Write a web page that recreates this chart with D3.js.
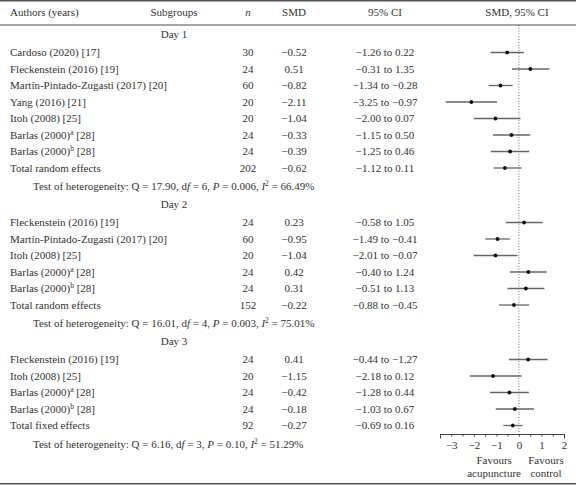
<!DOCTYPE html>
<html><head><meta charset="utf-8">
<script src="https://cdn.jsdelivr.net/npm/d3@7"></script>
<style>
body{margin:0;background:#fff}
svg{display:block}
text{font-family:"Liberation Serif","Times New Roman",serif;font-size:11px;fill:#333}
</style>
</head><body><svg id="c" width="576" height="485"></svg>
<script>
// ---------- data ----------
const days = ["Day 1", "Day 2", "Day 3"];
const authors = [
  "Cardoso (2020) [17]", "Fleckenstein (2016) [19]", "Martín-Pintado-Zugasti (2017) [20]",
  "Yang (2016) [21]", "Itoh (2008) [25]", "Barlas (2000)^a [28]", "Barlas (2000)^b [28]",
  "Fleckenstein (2016) [19]", "Martín-Pintado-Zugasti (2017) [20]", "Itoh (2008) [25]",
  "Barlas (2000)^a [28]", "Barlas (2000)^b [28]",
  "Fleckenstein (2016) [19]", "Itoh (2008) [25]", "Barlas (2000)^a [28]", "Barlas (2000)^b [28]"
];
const rowDay   = [0,0,0,0,0,0,0, 1,1,1,1,1, 2,2,2,2];
const nValues  = [30,24,60,20,20,24,24, 24,60,20,24,24, 24,20,24,24];
const smdValues= [-0.52,0.51,-0.82,-2.11,-1.04,-0.33,-0.39, 0.23,-0.95,-1.04,0.42,0.31, 0.41,-1.15,-0.42,-0.18];
const ciLow    = [-1.26,-0.31,-1.34,-3.25,-2.00,-1.15,-1.25, -0.58,-1.49,-2.01,-0.40,-0.51, -0.44,-2.18,-1.28,-1.03];
const ciHigh   = [0.22,1.35,-0.28,-0.97,0.07,0.50,0.46, 1.05,-0.41,-0.07,1.24,1.13, 1.27,0.12,0.44,0.67];
const ciLabels = [
  "−1.26 to 0.22","−0.31 to 1.35","−1.34 to −0.28","−3.25 to −0.97","−2.00 to 0.07","−1.15 to 0.50","−1.25 to 0.46",
  "−0.58 to 1.05","−1.49 to −0.41","−2.01 to −0.07","−0.40 to 1.24","−0.51 to 1.13",
  "−0.44 to −1.27","−2.18 to 0.12","−1.28 to 0.44","−1.03 to 0.67"
];
const totalLabels = ["Total random effects", "Total random effects", "Total fixed effects"];
const totalN      = [202, 152, 92];
const totalSmd    = [-0.62, -0.22, -0.27];
const totalLow    = [-1.12, -0.88, -0.69];
const totalHigh   = [0.11, 0.45, 0.16];
const totalCiLabels = ["−1.12 to 0.11", "−0.88 to −0.45", "−0.69 to 0.16"];
const hetQ  = ["17.90", "16.01", "6.16"];
const hetDf = ["6", "4", "3"];
const hetP  = ["0.006", "0.003", "0.10"];
const hetI2 = ["66.49%", "75.01%", "51.29%"];
const axisTicks = [-3, -2, -1, 0, 1, 2];
const headers = ["Authors (years)", "Subgroups", "n", "SMD", "95% CI", "SMD, 95% CI"];
const favourLabels = [["Favours", "acupuncture"], ["Favours", "control"]];

// ---------- layout ----------
const svg = d3.select("#c");
const W = 576, H = 485;
const col = {author: 10, sub: 174, n: 248, smd: 294, ci: 385, plot: 517};
const x = d3.scaleLinear().domain([-3.5, 2]).range([440, 564]);
const fmt = v => (v < 0 ? "−" : "") + Math.abs(v).toFixed(2);

// build rows
const rows = [];
days.forEach((d, di) => {
  rows.push({type: "day", label: d});
  authors.forEach((a, i) => {
    if (rowDay[i] === di) rows.push({type: "study", label: a, n: nValues[i], smd: smdValues[i], lo: ciLow[i], hi: ciHigh[i], ci: ciLabels[i]});
  });
  rows.push({type: "total", label: totalLabels[di], n: totalN[di], smd: totalSmd[di], lo: totalLow[di], hi: totalHigh[di], ci: totalCiLabels[di]});
  rows.push({type: "het", di});
});
const gapAfter = {day: 18.5, study: 16.5, total: 18.5, het: 17.5};
let yy = 34;
rows.forEach(r => { r.y = yy; yy += gapAfter[r.type]; });

// rules
const rule = (y, c, w) => svg.append("line").attr("x1", 0).attr("x2", W).attr("y1", y).attr("y2", y)
  .attr("stroke", c).attr("stroke-width", w);
rule(0.75, "#555", 1.5);
rule(25, "#888", 1.5);
rule(H - 1.25, "#555", 1.5);

// headers
const hy = 12 + 3.8;
const hx = [col.author, col.sub, col.n, col.smd, col.ci, col.plot];
headers.forEach((h, i) => {
  svg.append("text").attr("x", hx[i]).attr("y", hy)
    .attr("text-anchor", i === 0 ? "start" : "middle")
    .style("font-style", i === 2 ? "italic" : "normal").text(h);
});

// zero line
const axisY = 434;
svg.append("line").attr("x1", x(0)).attr("x2", x(0)).attr("y1", 25).attr("y2", axisY)
  .attr("stroke", "#444").attr("stroke-width", 0.8).attr("stroke-dasharray", "1,1.8");

// author label with superscript
function authorText(sel, label) {
  const m = label.match(/^(.*?)\^(\w)(.*)$/);
  if (m) {
    sel.append("tspan").text(m[1]);
    sel.append("tspan").attr("dy", -4).style("font-size", "7.5px").text(m[2]);
    sel.append("tspan").attr("dy", 4).text(m[3]);
  } else sel.text(label);
}

const g = svg.append("g");
rows.forEach(r => {
  const by = r.y + 3.8;
  if (r.type === "day") {
    g.append("text").attr("x", col.sub).attr("y", by).attr("text-anchor", "middle").text(r.label);
  } else if (r.type === "het") {
    const t = g.append("text").attr("x", 33).attr("y", by);
    t.append("tspan").text(`Test of heterogeneity: Q = ${hetQ[r.di]}, d`);
    t.append("tspan").style("font-style", "italic").text("f");
    t.append("tspan").text(` = ${hetDf[r.di]}, `);
    t.append("tspan").style("font-style", "italic").text("P");
    t.append("tspan").text(` = ${hetP[r.di]}, `);
    t.append("tspan").style("font-style", "italic").text("I");
    t.append("tspan").attr("dy", -4).style("font-size", "7.5px").text("2");
    t.append("tspan").attr("dy", 4).text(` = ${hetI2[r.di]}`);
  } else {
    authorText(g.append("text").attr("x", col.author).attr("y", by), r.label);
    g.append("text").attr("x", col.n).attr("y", by).attr("text-anchor", "middle").text(r.n);
    g.append("text").attr("x", col.smd).attr("y", by).attr("text-anchor", "middle").text(fmt(r.smd));
    g.append("text").attr("x", col.ci).attr("y", by).attr("text-anchor", "middle").text(r.ci);
    g.append("line").attr("x1", x(r.lo)).attr("x2", x(r.hi)).attr("y1", r.y).attr("y2", r.y)
      .attr("stroke", "#666").attr("stroke-width", 1.3);
    g.append("circle").attr("cx", x(r.smd)).attr("cy", r.y).attr("r", 1.9)
      .attr("fill", "#111");
  }
});

// axis
const minor = d3.range(-3.5, 2.001, 0.5);
const ax = svg.append("g").attr("transform", `translate(0,${axisY})`)
  .call(d3.axisBottom(x).tickValues(minor).tickSize(2.5).tickSizeOuter(0).tickPadding(5)
    .tickFormat(d => axisTicks.includes(d) ? (d < 0 ? "−" + Math.abs(d) : String(d)) : ""));
ax.select(".domain").attr("stroke", "#444").attr("stroke-width", 1);
ax.selectAll(".tick line").attr("stroke", "#444").attr("stroke-width", 1);
ax.selectAll(".tick").filter(d => d === -3.5 || d === 2).select("line").attr("y2", 4.5);
ax.selectAll(".tick text").attr("fill", "#333")
  .style("font-family", '"Liberation Serif","Times New Roman",serif').style("font-size", "11px");

// favours labels
const favX = [x(-1.1), x(1.2)];
favourLabels.forEach((lines, i) => {
  lines.forEach((l, j) => {
    svg.append("text").attr("x", favX[i]).attr("y", 460 + 3.8 + j * 13)
      .attr("text-anchor", "middle").text(l);
  });
});
</script>
</body></html>
